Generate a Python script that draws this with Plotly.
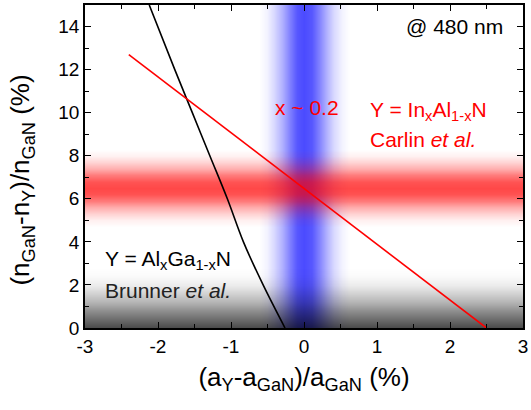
import plotly.graph_objects as go

# Refractive-index contrast vs. lattice mismatch at 480 nm
algan_mismatch = [-2.12, -1.77, -1.53, -1.29, -1.05, -0.83, -0.56, -0.26]
algan_index = [15, 12, 10, 8, 6, 4, 2, 0]

inaln_mismatch = [-2.40, 2.50]
inaln_index = [12.7, 0.0]

# Shaded guide bands (position -> opacity stops)
lattice_band_x = [-0.62, -0.51, -0.41, -0.31, -0.2, -0.1, 0.0, 0.1, 0.2, 0.31, 0.41, 0.51, 0.62]
lattice_band_alpha = [0.0, 0.05, 0.15, 0.3, 0.5, 0.66, 0.71, 0.66, 0.5, 0.3, 0.15, 0.05, 0.0]

index_band_y = [4.7, 5.0, 5.3, 5.6, 5.9, 6.2, 6.5, 6.8, 7.1, 7.4, 7.7, 8.0, 8.3]
index_band_alpha = [0.0, 0.06, 0.17, 0.33, 0.52, 0.68, 0.72, 0.68, 0.52, 0.33, 0.17, 0.06, 0.0]

low_band_y = [0.0, 0.4, 0.8, 1.2, 1.6, 2.0, 2.4, 2.8]
low_band_alpha = [0.72, 0.58, 0.44, 0.3, 0.18, 0.08, 0.02, 0.0]

x_ticks = [-3, -2, -1, 0, 1, 2, 3]
x_tick_text = ["-3", "-2", "-1", "0", "1", "2", "3"]
y_ticks = [0, 2, 4, 6, 8, 10, 12, 14]

FONT = "Liberation Sans, Arial, sans-serif"


def alpha_scale(rgb):
    return [[0.0, f"rgba({rgb},0)"], [1.0, f"rgba({rgb},1)"]]


fig = go.Figure()

# vertical blue band around zero mismatch
fig.add_trace(go.Heatmap(
    x=lattice_band_x, y=[0, 15],
    z=[lattice_band_alpha, lattice_band_alpha],
    zmin=0, zmax=1, zsmooth="best", colorscale=alpha_scale("0,0,255"),
    showscale=False, hoverinfo="skip"))

# grey band near zero contrast
fig.add_trace(go.Heatmap(
    x=[-3, 3], y=low_band_y,
    z=[[a, a] for a in low_band_alpha],
    zmin=0, zmax=1, zsmooth="best", colorscale=alpha_scale("0,0,0"),
    showscale=False, hoverinfo="skip"))

# horizontal red band around the target contrast
fig.add_trace(go.Heatmap(
    x=[-3, 3], y=index_band_y,
    z=[[a, a] for a in index_band_alpha],
    zmin=0, zmax=1, zsmooth="best", colorscale=alpha_scale("255,0,0"),
    showscale=False, hoverinfo="skip"))

fig.add_trace(go.Scatter(
    x=algan_mismatch, y=algan_index, mode="lines",
    line=dict(color="black", width=1.6, shape="spline"), hoverinfo="skip"))

fig.add_trace(go.Scatter(
    x=inaln_mismatch, y=inaln_index, mode="lines",
    line=dict(color="red", width=1.6), hoverinfo="skip"))

axis_common = dict(
    showgrid=False, zeroline=False, showline=True, linecolor="black", linewidth=1.8,
    mirror="allticks", ticks="inside", ticklen=6, tickwidth=1.3, tickcolor="black",
    tickfont=dict(family=FONT, size=19, color="black"),
)

fig.update_xaxes(
    range=[-3, 3], tickvals=x_ticks, ticktext=x_tick_text,
    ticklabeloverflow="allow",
    minor=dict(ticks="inside", dtick=0.5, ticklen=4, tickwidth=1.3, tickcolor="black"),
    title=dict(text="(a<sub>Y</sub>-a<sub>GaN</sub>)/a<sub>GaN</sub> (%)",
               font=dict(family=FONT, size=26, color="black"), standoff=12),
    **axis_common)
fig.update_yaxes(
    range=[0, 15], tickvals=y_ticks,
    minor=dict(ticks="inside", dtick=1, ticklen=4, tickwidth=1.3, tickcolor="black"),
    **axis_common)

ann_font = dict(family=FONT, size=21)
annotations = [
    dict(x=-0.145, y=0.458, xref="paper", yref="paper",
         text="(n<sub>GaN</sub>-n<sub>Y</sub>)/n<sub>GaN</sub> (%)", textangle=-90,
         font=dict(family=FONT, size=26, color="black"), showarrow=False,
         xanchor="center", yanchor="middle"),
    dict(x=2.76, y=13.98, text="@ 480 nm", font=dict(**ann_font, color="black"),
         xanchor="right", yanchor="middle"),
    dict(x=0.035, y=10.22, text="x ~ 0.2", font=dict(**ann_font, color="red"),
         xanchor="center", yanchor="middle"),
    dict(x=0.88, y=10.1, text="Y = In<sub>x</sub>Al<sub>1-x</sub>N",
         font=dict(**ann_font, color="red"), xanchor="left", yanchor="middle"),
    dict(x=0.88, y=8.76, text="Carlin <i>et al.</i>",
         font=dict(**ann_font, color="red"), xanchor="left", yanchor="middle"),
    dict(x=-2.76, y=3.15, text="Y = Al<sub>x</sub>Ga<sub>1-x</sub>N",
         font=dict(**ann_font, color="black"), xanchor="left", yanchor="middle"),
    dict(x=-2.76, y=1.74, text="Brunner <i>et al.</i>",
         font=dict(**ann_font, color="#222222"), xanchor="left", yanchor="middle"),
]
for a in annotations:
    a.setdefault("showarrow", False)
    a.setdefault("xref", "x")
    a.setdefault("yref", "y")

fig.update_layout(
    width=531, height=410,
    margin=dict(l=85, r=3, t=5, b=82),
    paper_bgcolor="white", plot_bgcolor="white",
    showlegend=False, annotations=annotations,
    font=dict(family=FONT),
)

fig.write_html("out.html")
